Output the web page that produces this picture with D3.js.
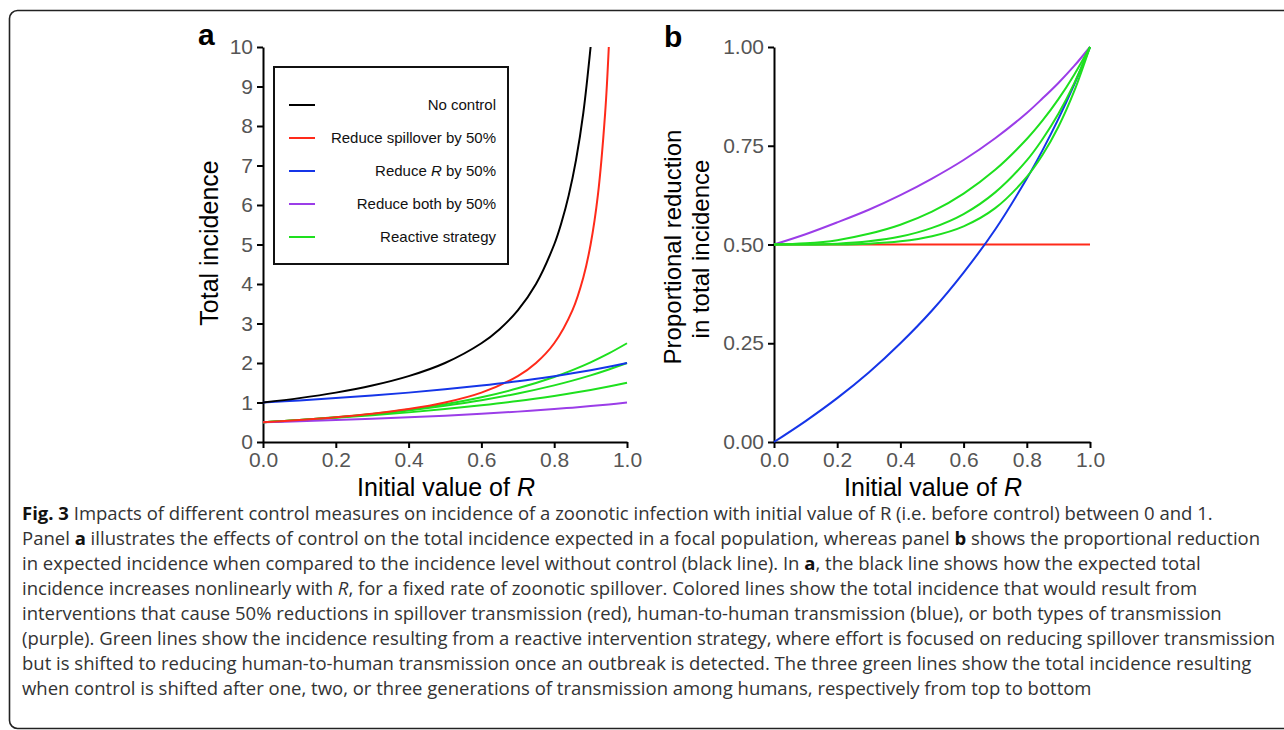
<!DOCTYPE html>
<html>
<head>
<meta charset="utf-8">
<script src="https://cdn.jsdelivr.net/npm/d3@7.9.0/dist/d3.min.js"></script>
<style>
  body { margin: 0; background: #fff; }
  svg text { font-family: "Liberation Sans", Arial, sans-serif; }
  .caption text { font-family: "Open Sans", sans-serif; fill: #333; }
</style>
</head>
<body>
<svg id="fig" width="1284" height="730"></svg>
<script>
// values
const rGrid = [0, 0.1, 0.2, 0.3, 0.4, 0.5, 0.6, 0.7, 0.8, 0.85, 0.9, 0.95, 1];
const rBlack = [0, 0.1, 0.2, 0.3, 0.4, 0.5, 0.6, 0.65, 0.7, 0.75, 0.8, 0.82, 0.84, 0.86, 0.88, 0.9];
const rRed = [0, 0.1, 0.2, 0.3, 0.4, 0.5, 0.6, 0.7, 0.75, 0.8, 0.85, 0.88, 0.9, 0.92, 0.94, 0.95];

// panel a: total incidence
const incNoControl = [1, 1.111, 1.25, 1.429, 1.667, 2, 2.5, 2.857, 3.333, 4, 5, 5.556, 6.25, 7.143, 8.333, 10];
const incSpill = [0.5, 0.556, 0.625, 0.714, 0.833, 1, 1.25, 1.667, 2, 2.5, 3.333, 4.167, 5, 6.25, 8.333, 10];
const incR = [1, 1.053, 1.111, 1.176, 1.25, 1.333, 1.429, 1.538, 1.667, 1.739, 1.818, 1.905, 2];
const incBoth = [0.5, 0.526, 0.556, 0.588, 0.625, 0.667, 0.714, 0.769, 0.833, 0.87, 0.909, 0.952, 1];
const incReact1 = [0.5, 0.553, 0.611, 0.676, 0.75, 0.833, 0.929, 1.038, 1.167, 1.239, 1.318, 1.405, 1.5];
const incReact2 = [0.5, 0.555, 0.622, 0.703, 0.8, 0.917, 1.057, 1.227, 1.433, 1.553, 1.686, 1.835, 2];
const incReact3 = [0.5, 0.556, 0.624, 0.711, 0.82, 0.958, 1.134, 1.359, 1.647, 1.82, 2.018, 2.243, 2.5];

// panel b: proportional reduction
const redSpill = [0.5, 0.5, 0.5, 0.5, 0.5, 0.5, 0.5, 0.5, 0.5, 0.5, 0.5, 0.5, 0.5];
const redR = [0, 0.053, 0.111, 0.176, 0.25, 0.333, 0.429, 0.538, 0.667, 0.739, 0.818, 0.905, 1];
const redBoth = [0.5, 0.526, 0.556, 0.588, 0.625, 0.667, 0.714, 0.769, 0.833, 0.87, 0.909, 0.952, 1];
const redReact1 = [0.5, 0.503, 0.511, 0.527, 0.55, 0.583, 0.629, 0.689, 0.767, 0.814, 0.868, 0.93, 1];
const redReact2 = [0.5, 0.5, 0.502, 0.508, 0.52, 0.542, 0.577, 0.632, 0.713, 0.767, 0.831, 0.908, 1];
const redReact3 = [0.5, 0.5, 0.5, 0.502, 0.508, 0.521, 0.546, 0.592, 0.671, 0.727, 0.798, 0.888, 1];

const ticksA = [0, 1, 2, 3, 4, 5, 6, 7, 8, 9, 10];
const ticksB = [0, 0.25, 0.5, 0.75, 1];
const ticksX = [0, 0.2, 0.4, 0.6, 0.8, 1];

const legendLabels = ["No control", "Reduce spillover by 50%", "Reduce R by 50%", "Reduce both by 50%", "Reactive strategy"];
const colors = {
  black: "#000000",
  red: "#ff2a1a",
  blue: "#1535e8",
  purple: "#9b3de8",
  green: "#1ee01e"
};
const legendColors = [colors.black, colors.red, colors.blue, colors.purple, colors.green];

const captionLines = [
  [["Fig. 3", "b"], [" Impacts of different control measures on incidence of a zoonotic infection with initial value of R (i.e. before control) between 0 and 1."]],
  [["Panel "], ["a", "b"], [" illustrates the effects of control on the total incidence expected in a focal population, whereas panel "], ["b", "b"], [" shows the proportional reduction"]],
  [["in expected incidence when compared to the incidence level without control (black line). In "], ["a", "b"], [", the black line shows how the expected total"]],
  [["incidence increases nonlinearly with "], ["R", "i"], [", for a fixed rate of zoonotic spillover. Colored lines show the total incidence that would result from"]],
  [["interventions that cause 50% reductions in spillover transmission (red), human-to-human transmission (blue), or both types of transmission"]],
  [["(purple). Green lines show the incidence resulting from a reactive intervention strategy, where effort is focused on reducing spillover transmission"]],
  [["but is shifted to reducing human-to-human transmission once an outbreak is detected. The three green lines show the total incidence resulting"]],
  [["when control is shifted after one, two, or three generations of transmission among humans, respectively from top to bottom"]]
];

const svg = d3.select("#fig");

// frame
svg.append("rect")
  .attr("x", 9.5).attr("y", 10.5)
  .attr("width", 1320).attr("height", 718)
  .attr("rx", 8)
  .attr("fill", "none")
  .attr("stroke", "#222")
  .attr("stroke-width", 1.6);

const xA = d3.scaleLinear().domain([0, 1]).range([263, 627]);
const yA = d3.scaleLinear().domain([0, 10]).range([442, 47]);
const xB = d3.scaleLinear().domain([0, 1]).range([774, 1090]);
const yB = d3.scaleLinear().domain([0, 1]).range([442, 47]);

function styleAxis(g) {
  g.selectAll("path.domain").attr("stroke", "#000").attr("stroke-width", 2);
  g.selectAll(".tick line").attr("stroke", "#000").attr("stroke-width", 2);
  g.selectAll(".tick text")
    .attr("fill", "#555")
    .style("font-size", "21px")
    .style("font-family", "'Liberation Sans', Arial, sans-serif");
}

function drawPanel(x, y, yTicks, yFmt) {
  const gx = svg.append("g")
    .attr("transform", `translate(0,${y(0)})`)
    .call(d3.axisBottom(x).tickValues(ticksX).tickFormat(d3.format(".1f"))
      .tickSize(6).tickSizeOuter(0).tickPadding(4));
  styleAxis(gx);
  const gy = svg.append("g")
    .attr("transform", `translate(${x(0)},0)`)
    .call(d3.axisLeft(y).tickValues(yTicks).tickFormat(yFmt)
      .tickSize(6).tickSizeOuter(0).tickPadding(4));
  styleAxis(gy);
}

drawPanel(xA, yA, ticksA, d3.format("d"));
drawPanel(xB, yB, ticksB, d3.format(".2f"));

function drawLine(x, y, rs, vs, color) {
  const line = d3.line()
    .x((d, i) => x(rs[i]))
    .y(d => y(d))
    .curve(d3.curveCatmullRom);
  svg.append("path")
    .attr("d", line(vs))
    .attr("fill", "none")
    .attr("stroke", color)
    .attr("stroke-width", 2);
}

// panel a curves
drawLine(xA, yA, rGrid, incReact1, colors.green);
drawLine(xA, yA, rGrid, incReact2, colors.green);
drawLine(xA, yA, rGrid, incReact3, colors.green);
drawLine(xA, yA, rGrid, incBoth, colors.purple);
drawLine(xA, yA, rRed, incSpill, colors.red);
drawLine(xA, yA, rGrid, incR, colors.blue);
drawLine(xA, yA, rBlack, incNoControl, colors.black);

// panel b curves
drawLine(xB, yB, rGrid, redSpill, colors.red);
drawLine(xB, yB, rGrid, redR, colors.blue);
drawLine(xB, yB, rGrid, redBoth, colors.purple);
drawLine(xB, yB, rGrid, redReact1, colors.green);
drawLine(xB, yB, rGrid, redReact2, colors.green);
drawLine(xB, yB, rGrid, redReact3, colors.green);

// legend
svg.append("rect")
  .attr("x", 274).attr("y", 67)
  .attr("width", 234).attr("height", 197)
  .attr("fill", "#fff")
  .attr("stroke", "#111")
  .attr("stroke-width", 2);

legendLabels.forEach((label, i) => {
  const ly = 105 + i * 33;
  svg.append("line")
    .attr("x1", 289).attr("x2", 315)
    .attr("y1", ly).attr("y2", ly)
    .attr("stroke", legendColors[i])
    .attr("stroke-width", 2);
  const t = svg.append("text")
    .attr("x", 496).attr("y", ly + 5)
    .attr("text-anchor", "end")
    .style("font-size", "15px")
    .attr("fill", "#111");
  if (label.includes(" R ")) {
    t.append("tspan").text("Reduce ");
    t.append("tspan").attr("font-style", "italic").text("R");
    t.append("tspan").text(" by 50%");
  } else {
    t.text(label);
  }
});

// axis titles
svg.append("text")
  .attr("transform", "translate(218,243) rotate(-90)")
  .attr("text-anchor", "middle")
  .style("font-size", "25px")
  .text("Total incidence");

[446, 933].forEach(cx => {
  const t = svg.append("text")
    .attr("x", cx).attr("y", 496)
    .attr("text-anchor", "middle")
    .style("font-size", "25px");
  t.append("tspan").text("Initial value of ");
  t.append("tspan").attr("font-style", "italic").text("R");
});

svg.append("text")
  .attr("transform", "translate(681,247) rotate(-90)")
  .attr("text-anchor", "middle")
  .style("font-size", "24px")
  .text("Proportional reduction");
svg.append("text")
  .attr("transform", "translate(709,249) rotate(-90)")
  .attr("text-anchor", "middle")
  .style("font-size", "24px")
  .text("in total incidence");

// panel letters
svg.append("text").attr("x", 198).attr("y", 45)
  .style("font-size", "30px").style("font-weight", "bold").text("a");
svg.append("text").attr("x", 664).attr("y", 47)
  .style("font-size", "30px").style("font-weight", "bold").text("b");

// caption: size the font so the second (full) line runs to the right margin
const cap = svg.append("g").attr("class", "caption");
const capTexts = captionLines.map((segs, i) => {
  const t = cap.append("text")
    .attr("x", 22).attr("y", 520 + i * 25)
    .style("font-size", "17px");
  segs.forEach(([txt, st]) => {
    const s = t.append("tspan").text(txt);
    if (st === "b") s.attr("font-weight", "bold").attr("fill", "#111");
    if (st === "i") s.attr("font-style", "italic");
  });
  return t;
});
const w2 = capTexts[1].node().getComputedTextLength();
const capSize = Math.min(18.5, 17 * (1274 - 22) / w2);
capTexts.forEach(t => t.style("font-size", capSize + "px"));
</script>
</body>
</html>
